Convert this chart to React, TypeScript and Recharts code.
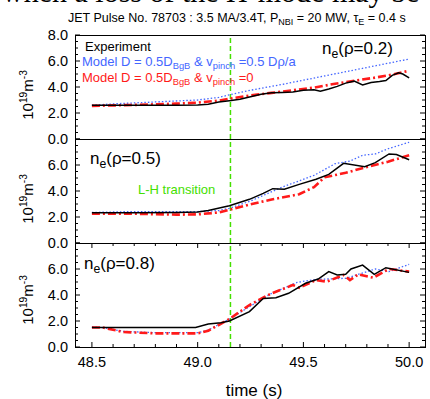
import React from 'react';
import { LineChart, Line, XAxis, YAxis, ReferenceLine } from 'recharts';

// time axis (s)
const TIME_DOMAIN = [48.42, 50.075];
const TIME_LABELS = [48.5, 49.0, 49.5, 50.0];
const TIME_TICKS = [48.5, 48.6, 48.7, 48.8, 48.9, 49.0, 49.1, 49.2, 49.3, 49.4, 49.5, 49.6, 49.7, 49.8, 49.9, 50.0];
const DENS_TICKS = [0, 0.5, 1, 1.5, 2, 2.5, 3, 3.5, 4, 4.5, 5, 5.5, 6, 6.5, 7, 7.5, 8];
const LH_TIME = 49.155;

// n_e(rho=0.2)
const exp02 = [[48.5, 2.6], [48.7, 2.6], [48.9, 2.6], [49.0, 2.62], [49.05, 2.68], [49.1, 2.85], [49.15, 2.95], [49.2, 3.05], [49.25, 3.25], [49.3, 3.45], [49.35, 3.55], [49.4, 3.58], [49.45, 3.62], [49.5, 3.75], [49.55, 3.78], [49.58, 3.68], [49.62, 3.85], [49.66, 4.05], [49.7, 4.3], [49.74, 4.45], [49.78, 4.15], [49.82, 4.35], [49.86, 4.42], [49.89, 4.5], [49.92, 4.9], [49.95, 5.1], [49.97, 5.0], [50.0, 4.7]];
const pinch02 = [[48.5, 2.6], [48.6, 2.7], [48.8, 2.85], [49.0, 3.0], [49.1, 3.2], [49.15, 3.4], [49.25, 3.75], [49.4, 4.2], [49.6, 4.85], [49.8, 5.5], [50.0, 6.15]];
const nopinch02 = [[48.5, 2.55], [48.7, 2.62], [48.9, 2.72], [49.0, 2.8], [49.1, 2.95], [49.15, 3.1], [49.25, 3.35], [49.35, 3.55], [49.45, 3.75], [49.55, 3.95], [49.65, 4.25], [49.75, 4.5], [49.85, 4.75], [49.92, 4.95], [50.0, 5.25]];

// n_e(rho=0.5)
const exp05 = [[48.5, 2.33], [48.7, 2.33], [48.9, 2.35], [49.0, 2.38], [49.05, 2.5], [49.15, 2.87], [49.245, 3.36], [49.31, 3.82], [49.355, 4.18], [49.41, 4.13], [49.48, 4.51], [49.56, 4.9], [49.62, 5.28], [49.69, 6.13], [49.79, 5.87], [49.84, 6.18], [49.905, 6.85], [49.94, 6.8], [50.0, 6.4]];
const pinch05 = [[48.5, 2.35], [48.7, 2.42], [49.0, 2.42], [49.1, 2.5], [49.15, 2.67], [49.25, 3.23], [49.4, 4.3], [49.55, 5.2], [49.65, 6.1], [49.72, 6.3], [49.78, 6.75], [49.84, 6.85], [49.9, 7.25], [50.0, 7.75]];
const nopinch05 = [[48.5, 2.25], [48.7, 2.25], [48.9, 2.18], [49.0, 2.2], [49.1, 2.35], [49.15, 2.55], [49.25, 2.97], [49.35, 3.35], [49.48, 3.75], [49.55, 4.3], [49.6, 5.05], [49.7, 5.4], [49.8, 5.85], [49.9, 6.25], [50.0, 6.75]];

// n_e(rho=0.8)
const exp08 = [[48.5, 1.5], [48.7, 1.5], [48.9, 1.5], [48.99, 1.5], [49.05, 1.77], [49.11, 1.87], [49.15, 2.0], [49.245, 2.72], [49.31, 3.74], [49.37, 3.79], [49.43, 4.13], [49.51, 4.9], [49.57, 5.23], [49.62, 5.8], [49.66, 5.54], [49.7, 5.59], [49.725, 6.0], [49.78, 6.3], [49.835, 5.59], [49.89, 6.1], [50.0, 5.74]];
const pinch08 = [[48.5, 1.55], [48.55, 1.5], [48.65, 1.2], [48.8, 1.1], [49.0, 1.1], [49.05, 1.3], [49.15, 2.15], [49.245, 3.1], [49.34, 4.05], [49.47, 4.97], [49.56, 5.2], [49.7, 5.28], [49.84, 6.0], [49.905, 5.8], [50.0, 6.36]];
const nopinch08 = [[48.5, 1.5], [48.55, 1.5], [48.65, 1.15], [48.8, 1.05], [49.0, 1.05], [49.05, 1.25], [49.15, 2.15], [49.245, 3.23], [49.34, 4.05], [49.45, 4.77], [49.48, 4.56], [49.56, 5.15], [49.61, 5.03], [49.69, 5.54], [49.72, 5.15], [49.76, 5.59], [49.83, 5.33], [49.905, 6.0], [50.0, 5.8]];

const toRows = (pts: number[][]) => pts.map(([t, v]) => ({ t, v }));

const FONT = '"Liberation Sans", Arial, Helvetica, sans-serif';
const PLOT_L = 75;
const PLOT_R = 425;
const MT = 12;
const PH = 104;

const BLACK = '#000000';
const RED = '#ff1a1a';
const BLUE = '#4466ff';
const GREEN = '#44e000';

const makeYTick = (showTop: boolean) => (props: any) => {
  const { y, payload } = props;
  const v = payload.value;
  const major = v % 2 === 0;
  const len = major ? 5 : 3;
  const label = major && (showTop || v !== 8);
  return (
    <g>
      <line x1={PLOT_L} x2={PLOT_L + len} y1={y} y2={y} stroke="#000" strokeWidth={1} />
      <line x1={PLOT_R - len} x2={PLOT_R} y1={y} y2={y} stroke="#000" strokeWidth={1} />
      {label && (
        <text x={PLOT_L - 7} y={y} dy="0.36em" textAnchor="end" fontSize={14.5} fontFamily={FONT} fill="#000">
          {v.toFixed(1)}
        </text>
      )}
    </g>
  );
};

const makeXTick = (showLabels: boolean) => (props: any) => {
  const { x, payload } = props;
  const v = payload.value;
  const major = TIME_LABELS.some((l) => Math.abs(l - v) < 1e-6);
  const len = major ? 5 : 3;
  return (
    <g>
      <line x1={x} x2={x} y1={MT + PH} y2={MT + PH - len} stroke="#000" strokeWidth={1} />
      <line x1={x} x2={x} y1={MT} y2={MT + len} stroke="#000" strokeWidth={1} />
      {showLabels && major && (
        <text x={x} y={MT + PH + 15} dy="0.36em" textAnchor="middle" fontSize={14.5} fontFamily={FONT} fill="#000">
          {v.toFixed(1)}
        </text>
      )}
    </g>
  );
};

interface PanelProps {
  top: number;
  exp: number[][];
  pinch: number[][];
  nopinch: number[][];
  showTop: boolean;
  bottom: boolean;
}

const Panel: React.FC<PanelProps> = ({ top, exp, pinch, nopinch, showTop, bottom }) => {
  const xh = bottom ? 30 : 0;
  const mb = 12;
  return (
    <>
      <div style={{ position: 'absolute', left: 0, top: top - MT }}>
        <LineChart width={430} height={MT + PH + xh + mb} margin={{ top: MT, right: 5, left: 0, bottom: mb }} style={{ overflow: 'visible' }}>
          <XAxis dataKey="t" type="number" domain={TIME_DOMAIN} ticks={TIME_TICKS} interval={0} allowDataOverflow
            height={xh} axisLine={false} tickLine={false} tick={makeXTick(bottom)} />
          <YAxis type="number" domain={[0, 8]} ticks={DENS_TICKS} interval={0} width={PLOT_L}
            axisLine={false} tickLine={false} tick={makeYTick(showTop)} />
          <ReferenceLine x={LH_TIME} stroke={GREEN} strokeWidth={1.5} strokeDasharray="5 3" />
          <Line data={toRows(pinch)} dataKey="v" stroke={BLUE} strokeWidth={1.3} strokeDasharray="1.5 2" dot={false} isAnimationActive={false} />
          <Line data={toRows(nopinch)} dataKey="v" stroke={RED} strokeWidth={2.6} strokeDasharray="8 3 2 3" dot={false} isAnimationActive={false} />
          <Line data={toRows(exp)} dataKey="v" stroke={BLACK} strokeWidth={1.5} dot={false} isAnimationActive={false} />
        </LineChart>
      </div>
      <div style={{ position: 'absolute', left: PLOT_L, top, width: PLOT_R - PLOT_L + 1, height: PH + 1, boxSizing: 'border-box', border: '1px solid #000', pointerEvents: 'none' }} />
    </>
  );
};

const abs = (left: number, top: number, extra: React.CSSProperties = {}): React.CSSProperties => ({
  position: 'absolute', left, top, whiteSpace: 'nowrap', fontFamily: FONT, lineHeight: 1, ...extra,
});

const sub: React.CSSProperties = { fontSize: '0.72em', verticalAlign: '-0.3em' };
const sup: React.CSSProperties = { fontSize: '0.68em', verticalAlign: '0.55em' };

const YLabel: React.FC<{ cy: number }> = ({ cy }) => (
  <div style={abs(27, cy, { fontSize: 15, transform: 'translate(-50%, -50%) rotate(-90deg)' })}>
    10<span style={sup}>19</span>m<span style={sup}>-3</span>
  </div>
);

const NeLabel: React.FC<{ left: number; top: number; rho: string }> = ({ left, top, rho }) => (
  <div style={abs(left, top, { fontSize: 17 })}>
    n<span style={sub}>e</span>(ρ={rho})
  </div>
);

export default function App() {
  return (
    <div style={{ position: 'absolute', left: 0, top: 0, width: 430, height: 399, overflow: 'hidden', background: '#fff' }}>
      <div style={{ position: 'absolute', left: 2, top: -25, fontFamily: '"Liberation Serif", "Times New Roman", serif', fontSize: 30, whiteSpace: 'nowrap' }}>
        when a loss of the H-mode may be
      </div>
      <div style={abs(68, 12, { fontSize: 12.5 })}>
        JET Pulse No. 78703 : 3.5 MA/3.4T, P<span style={sub}>NBI</span> = 20 MW, τ<span style={sub}>E</span> = 0.4 s
      </div>

      <Panel top={35} exp={exp02} pinch={pinch02} nopinch={nopinch02} showTop bottom={false} />
      <Panel top={139} exp={exp05} pinch={pinch05} nopinch={nopinch05} showTop={false} bottom={false} />
      <Panel top={243} exp={exp08} pinch={pinch08} nopinch={nopinch08} showTop={false} bottom />

      <YLabel cy={95} />
      <YLabel cy={199} />
      <YLabel cy={300} />

      <div style={abs(85, 40, { fontSize: 13, color: '#000' })}>Experiment</div>
      <div style={abs(82, 55, { fontSize: 13, color: BLUE })}>
        Model D = 0.5D<span style={sub}>BgB</span> &amp; v<span style={sub}>pinch</span> =0.5 Dρ/a
      </div>
      <div style={abs(82, 71, { fontSize: 13, color: RED })}>
        Model D = 0.5D<span style={sub}>BgB</span> &amp; v<span style={sub}>pinch</span> =0
      </div>
      <NeLabel left={322} top={40} rho="0.2" />
      <NeLabel left={90} top={150} rho="0.5" />
      <NeLabel left={84} top={255} rho="0.8" />
      <div style={abs(138, 183, { fontSize: 13, color: GREEN })}>L-H transition</div>

      <div style={abs(254, 390, { fontSize: 17, transform: 'translate(-50%, -50%)' })}>time (s)</div>
    </div>
  );
}
